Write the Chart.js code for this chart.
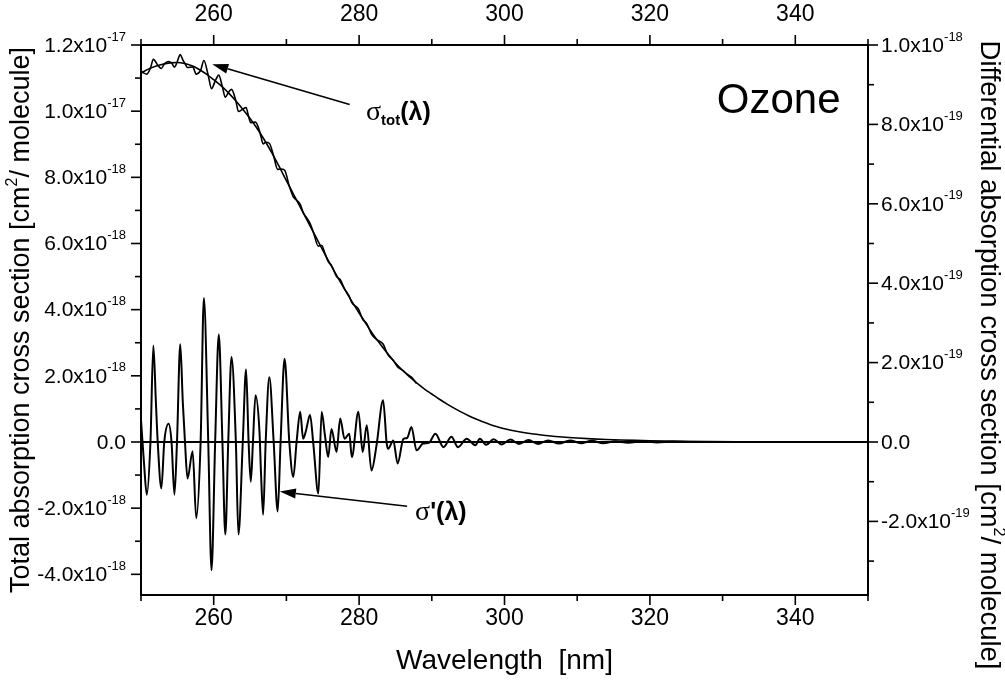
<!DOCTYPE html>
<html>
<head>
<meta charset="utf-8">
<script src="https://cdn.jsdelivr.net/npm/chart.js@4.4.1/dist/chart.umd.min.js"></script>
<style>
  html, body { margin: 0; padding: 0; background: #fff; }
</style>
</head>
<body>
<canvas id="ozoneChart" width="1005" height="681"></canvas>
<script>
// smooth total cross section, wavelength [nm] and value [1e-18 cm2/molecule]
const totalWl = [250, 251, 252, 253, 254, 255, 256, 257, 258, 259,
  260, 261, 262, 263, 264, 265, 266, 267, 268, 269,
  270, 271, 272, 273, 274, 275, 276, 277, 278, 279,
  280, 281, 282, 283, 284, 285, 286, 287, 288, 289,
  290, 291, 292, 293, 294, 295, 296, 297, 298, 299,
  300, 302, 304, 306, 308, 310, 312, 314, 316, 318, 320,
  324, 328, 332, 336, 340, 345, 350];
const totalSmooth = [11.15, 11.27, 11.36, 11.42, 11.46, 11.47, 11.44, 11.37, 11.26, 11.12,
  10.95, 10.77, 10.56, 10.32, 10.06, 9.78, 9.47, 9.12, 8.74, 8.33,
  7.9, 7.48, 7.06, 6.64, 6.22, 5.8, 5.39, 5.0, 4.62, 4.25,
  3.9, 3.56, 3.23, 2.93, 2.65, 2.39, 2.16, 1.96, 1.77, 1.6,
  1.45, 1.3, 1.16, 1.03, 0.91, 0.8, 0.7, 0.61, 0.53, 0.46,
  0.4, 0.31, 0.24, 0.19, 0.15, 0.12, 0.095, 0.075, 0.06, 0.048, 0.038,
  0.024, 0.015, 0.009, 0.006, 0.004, 0.002, 0.001];

// differential cross section sigma', wavelength [nm] and value [1e-19 cm2/molecule]
const sigmaWl = [250.0, 250.4, 250.8, 251.3, 251.7, 252.05, 252.3, 252.8, 253.2, 253.8,
  254.2, 254.6, 254.95, 255.4, 255.75, 256.05, 256.4, 257.1, 257.6, 258.2,
  258.65, 259.25, 259.7, 260.2, 260.7, 261.2, 261.6, 262.0, 262.45, 263.05,
  263.4, 264.0, 264.45, 264.8, 265.1, 265.4, 265.75, 266.3, 266.5, 266.8,
  267.15, 267.65, 268.25, 268.8, 269.2, 269.75, 270.4, 270.95, 271.4, 271.9,
  272.3, 272.7, 273.25, 273.7, 274.4, 274.85, 275.3, 275.75, 276.2, 276.9,
  277.4, 278.0, 278.65, 279.0, 279.9, 280.5, 281.05, 281.7, 282.4, 283.3,
  283.8, 284.0, 284.7, 285.3, 286.1, 286.6, 287.2, 287.9, 288.8, 289.6,
  290.5, 291.6, 292.7, 293.6, 294.8, 296.0, 296.6, 297.5, 298.5, 299.6,
  300.8, 302.0, 303.3, 304.6, 306.0, 307.5, 309.0, 310.5, 312.0, 313.6,
  315.2, 317.0, 319.0, 321.0, 323.0, 326.0, 330, 335, 340, 345, 350];
const sigmaDiff = [0.55, -0.50, -1.33, 0, 2.43, 1.0, 0, -1.17, 0, 0.46,
  0, -1.33, 0, 2.46, 1.0, 0, -0.92, -0.23, -1.92, 0,
  3.63, 0, -3.23, 0, 2.71, 0, -2.33, 0, 2.14, 0,
  -2.33, 0, 1.83, 0, -1.0, 0, 1.18, 0.25, -0.75, -1.83,
  0, 1.63, 0, -1.75, 0, 2.10, 0, -0.88, 0, 0.76,
  0.08, 0.29, 0.68, -0.04, -1.30, 0.76, 0.17, -0.38, 0.33, -0.25,
  0.59, 0.08, 0.21, -0.38, 0.76, -0.25, 0.42, -0.72, -0.08, 1.05,
  -0.04, -0.17, 0.04, -0.54, 0.08, 0.10, 0.38, -0.21, -0.04, -0.02,
  0.21, -0.13, 0.13, -0.13, 0.08, -0.08, 0.08, -0.07, 0.07, -0.06,
  0.06, -0.05, 0.05, -0.05, 0.04, -0.04, 0.04, -0.03, 0.03, -0.03,
  0.02, -0.02, 0.02, -0.01, 0.01, 0, 0, 0, 0, 0, 0];

// measured (structured) total cross section on the first 78 sigma' wavelengths [1e-18]
const totalRaw = [11.21, 11.15, 11.12, 11.30, 11.57, 11.48, 11.39, 11.29, 11.43, 11.50,
  11.46, 11.33, 11.47, 11.71, 11.55, 11.44, 11.32, 11.34, 11.12, 11.23,
  11.53, 11.08, 10.68, 10.91, 11.09, 10.73, 10.42, 10.56, 10.66, 10.31,
  9.99, 10.06, 10.11, 9.84, 9.65, 9.66, 9.67, 9.40, 9.23, 9.01,
  9.06, 9.03, 8.64, 8.24, 8.25, 8.22, 7.73, 7.41, 7.31, 7.18,
  6.94, 6.80, 6.61, 6.35, 5.92, 5.94, 5.70, 5.45, 5.34, 5.00,
  4.91, 4.63, 4.40, 4.21, 4.02, 3.71, 3.58, 3.26, 3.10, 2.96,
  2.71, 2.63, 2.46, 2.27, 2.15, 2.05, 1.96, 1.77];

// zero reference line
const baselineWl = [250, 350];
const baselineVal = [0, 0];

// ticks
const xTickValues = [260, 280, 300, 320, 340];
const xTickLabels = ['260', '280', '300', '320', '340'];
const xMinorValues = [250, 270, 290, 310, 330, 350];
const leftTickValues = [-4, -2, 0, 2, 4, 6, 8, 10, 12];
const leftTickLabels = [['-4.0x10', '-18'], ['-2.0x10', '-18'], ['0.0', ''], ['2.0x10', '-18'],
  ['4.0x10', '-18'], ['6.0x10', '-18'], ['8.0x10', '-18'], ['1.0x10', '-17'], ['1.2x10', '-17']];
const leftMinorValues = [-3, -1, 1, 3, 5, 7, 9, 11];
const rightTickValues = [-2, 0, 2, 4, 6, 8, 10];
const rightTickLabels = [['-2.0x10', '-19'], ['0.0', ''], ['2.0x10', '-19'], ['4.0x10', '-19'],
  ['6.0x10', '-19'], ['8.0x10', '-19'], ['1.0x10', '-18']];
const rightMinorValues = [-3, -1, 1, 3, 5, 7, 9];

const SANS = '"Liberation Sans", Arial, sans-serif';
const SERIF = '"Liberation Serif", "Times New Roman", serif';

const pts = (xs, ys) => ys.map((v, i) => ({ x: xs[i], y: v }));

// draws a row of text pieces [text, font, dy]; align left/right/center around x
function drawPieces(ctx, pieces, x, y, align) {
  let w = 0;
  pieces.forEach(p => { ctx.font = p[1]; w += ctx.measureText(p[0]).width; });
  let cx = align === 'right' ? x - w : align === 'center' ? x - w / 2 : x;
  ctx.textAlign = 'left';
  ctx.textBaseline = 'middle';
  pieces.forEach(p => {
    ctx.font = p[1];
    ctx.fillText(p[0], cx, y + p[2]);
    cx += ctx.measureText(p[0]).width;
  });
}

function arrow(ctx, x1, y1, x2, y2) {
  const ang = Math.atan2(y2 - y1, x2 - x1), L = 16, W = 5;
  const bx = x2 - L * Math.cos(ang), by = y2 - L * Math.sin(ang);
  ctx.beginPath(); ctx.moveTo(x1, y1); ctx.lineTo(bx, by); ctx.stroke();
  ctx.beginPath(); ctx.moveTo(x2, y2);
  ctx.lineTo(bx + W * Math.sin(ang), by - W * Math.cos(ang));
  ctx.lineTo(bx - W * Math.sin(ang), by + W * Math.cos(ang));
  ctx.closePath(); ctx.fill();
}

const frame = {
  id: 'frame',
  afterDraw(chart) {
    const { ctx, chartArea: a, scales } = chart;
    const sx = scales.x, yl = scales.y, yr = scales.y2;
    ctx.save();
    ctx.strokeStyle = '#000';
    ctx.fillStyle = '#000';
    ctx.lineWidth = 2;
    ctx.strokeRect(a.left, a.top, a.right - a.left, a.bottom - a.top);

    ctx.lineWidth = 1.6;
    const tick = (x1, y1, x2, y2) => { ctx.beginPath(); ctx.moveTo(x1, y1); ctx.lineTo(x2, y2); ctx.stroke(); };
    xTickValues.forEach(v => { const p = sx.getPixelForValue(v); tick(p, a.bottom, p, a.bottom + 10); tick(p, a.top, p, a.top - 10); });
    xMinorValues.forEach(v => { const p = sx.getPixelForValue(v); tick(p, a.bottom, p, a.bottom + 6); tick(p, a.top, p, a.top - 6); });
    leftTickValues.forEach(v => { const p = yl.getPixelForValue(v); tick(a.left, p, a.left - 10, p); });
    leftMinorValues.forEach(v => { const p = yl.getPixelForValue(v); tick(a.left, p, a.left - 6, p); });
    rightTickValues.forEach(v => { const p = yr.getPixelForValue(v); tick(a.right, p, a.right + 10, p); });
    rightMinorValues.forEach(v => { const p = yr.getPixelForValue(v); tick(a.right, p, a.right + 6, p); });

    // tick labels
    const fTick = '23px ' + SANS, fMant = '21px ' + SANS, fExp = '13px ' + SANS;
    xTickValues.forEach((v, i) => {
      const p = sx.getPixelForValue(v);
      drawPieces(ctx, [[xTickLabels[i], fTick, 0]], p, a.bottom + 24, 'center');
      drawPieces(ctx, [[xTickLabels[i], fTick, 0]], p, a.top - 30, 'center');
    });
    leftTickValues.forEach((v, i) => {
      const p = yl.getPixelForValue(v);
      drawPieces(ctx, [[leftTickLabels[i][0], fMant, 1], [leftTickLabels[i][1], fExp, -8]], a.left - 15, p, 'right');
    });
    rightTickValues.forEach((v, i) => {
      const p = yr.getPixelForValue(v);
      drawPieces(ctx, [[rightTickLabels[i][0], fMant, 1], [rightTickLabels[i][1], fExp, -8]], a.right + 13, p, 'left');
    });

    // axis titles
    const fTitle = '27px ' + SANS, fTitleSup = '16px ' + SANS;
    drawPieces(ctx, [['Wavelength  [nm]', '28px ' + SANS, 0]], (a.left + a.right) / 2, 661, 'center');
    ctx.save();
    ctx.translate(22, (a.top + a.bottom) / 2);
    ctx.rotate(-Math.PI / 2);
    drawPieces(ctx, [['Total absorption cross section [cm', fTitle, 0], ['2', fTitleSup, -9], ['/ molecule]', fTitle, 0]], 0, 0, 'center');
    ctx.restore();
    ctx.save();
    ctx.translate(989, 355);
    ctx.rotate(Math.PI / 2);
    const fRight = '27.5px ' + SANS;
    drawPieces(ctx, [['Differential absorption cross section [cm', fRight, 0], ['2', fTitleSup, -9], ['/ molecule]', fRight, 0]], 0, 0, 'center');
    ctx.restore();

    // annotations (anchored in data units: nm, 1e-18 on the left axis)
    ctx.lineWidth = 1.6;
    arrow(ctx, sx.getPixelForValue(278.7), yl.getPixelForValue(10.2), sx.getPixelForValue(259.8), yl.getPixelForValue(11.42));
    drawPieces(ctx, [['\u03c3', '28px ' + SERIF, 0], ['tot', 'bold 15px ' + SANS, 8], ['(\u03bb)', 'bold 25px ' + SANS, 0]],
      sx.getPixelForValue(280.95), yl.getPixelForValue(9.95), 'left');
    arrow(ctx, sx.getPixelForValue(286.6), yl.getPixelForValue(-1.94), sx.getPixelForValue(269.1), yl.getPixelForValue(-1.5));
    drawPieces(ctx, [['\u03c3', '28px ' + SERIF, 0], ['\'(\u03bb)', 'bold 25px ' + SANS, 0]],
      sx.getPixelForValue(287.7), yl.getPixelForValue(-2.15), 'left');
    drawPieces(ctx, [['Ozone', '42px ' + SANS, 0]], sx.getPixelForValue(329.2), yl.getPixelForValue(10.28), 'left');
    ctx.restore();
  }
};

const hidden = { grid: { display: false }, ticks: { display: false }, border: { display: false } };

new Chart(document.getElementById('ozoneChart'), {
  type: 'line',
  data: {
    datasets: [
      { data: pts(sigmaWl, sigmaDiff), yAxisID: 'y2', borderWidth: 2, cubicInterpolationMode: 'monotone' },
      { data: pts(sigmaWl.slice(0, totalRaw.length), totalRaw), yAxisID: 'y', borderWidth: 1.6, cubicInterpolationMode: 'monotone' },
      { data: pts(totalWl, totalSmooth), yAxisID: 'y', borderWidth: 1.6, cubicInterpolationMode: 'monotone' },
      { data: pts(baselineWl, baselineVal), yAxisID: 'y', borderWidth: 2 }
    ]
  },
  options: {
    responsive: false,
    animation: false,
    devicePixelRatio: 1,
    layout: { padding: 0 },
    plugins: { legend: { display: false }, tooltip: { enabled: false } },
    elements: {
      point: { radius: 0 },
      line: { borderColor: '#000', fill: false }
    },
    scales: {
      x: { type: 'linear', position: 'bottom', min: 250, max: 350, ...hidden, afterFit: s => { s.height = 86; } },
      x2: { type: 'linear', position: 'top', min: 250, max: 350, ...hidden, afterFit: s => { s.height = 45; } },
      y: { type: 'linear', position: 'left', min: -4.625, max: 12, ...hidden, afterFit: s => { s.width = 141; } },
      y2: { type: 'linear', position: 'right', min: -3.854, max: 10, ...hidden, afterFit: s => { s.width = 137; } }
    }
  },
  plugins: [frame]
});
</script>
</body>
</html>
